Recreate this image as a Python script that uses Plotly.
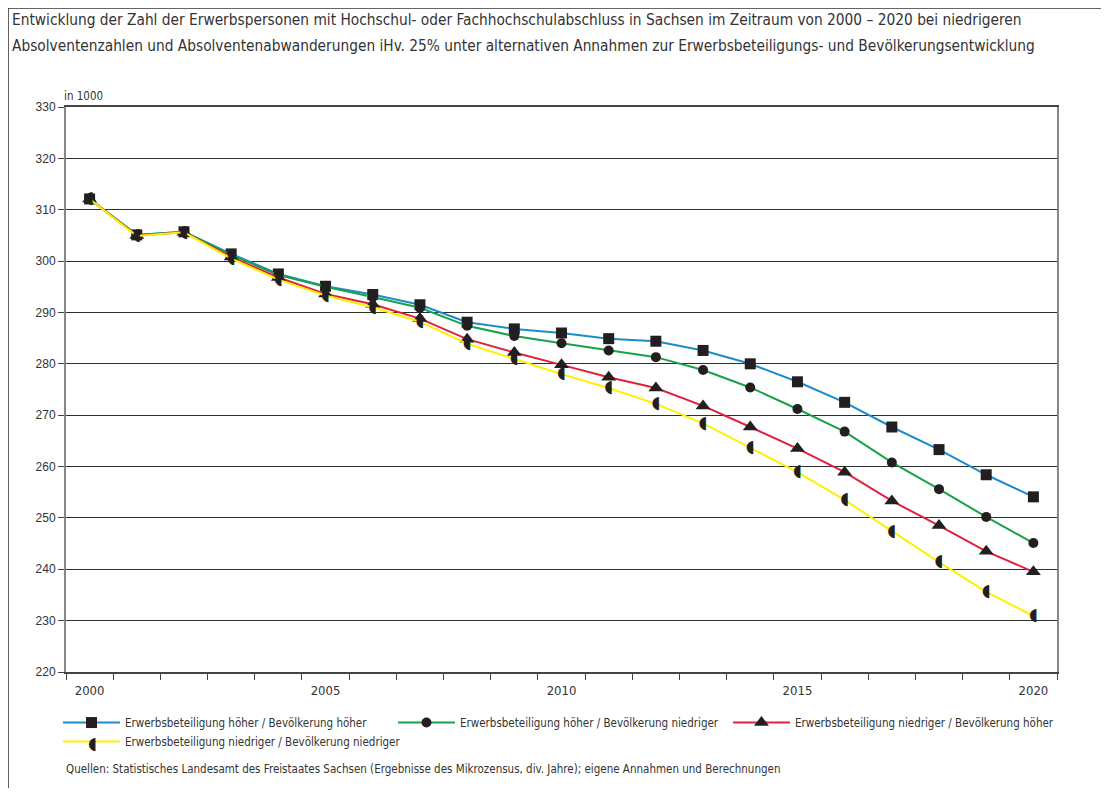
import plotly.graph_objects as go

years = list(range(2000, 2021))
tick_labels = ["2000", "2005", "2010", "2015", "2020"]

hoch_hoch = [312.1, 305.1, 305.7, 301.4, 297.5, 295.1, 293.5, 291.5, 288.1, 286.8, 286.0,
             284.9, 284.4, 282.6, 280.0, 276.5, 272.5, 267.7, 263.3, 258.4, 254.1]
hoch_nied = [312.1, 305.1, 305.7, 301.2, 297.3, 295.0, 293.0, 290.9, 287.4, 285.4, 284.0,
             282.6, 281.3, 278.8, 275.4, 271.2, 266.8, 260.8, 255.6, 250.2, 245.1]
nied_hoch = [312.1, 305.0, 305.6, 300.8, 296.8, 293.6, 291.6, 288.8, 284.8, 282.2, 279.8,
             277.4, 275.3, 271.8, 267.7, 263.5, 258.9, 253.3, 248.5, 243.5, 239.5]
nied_nied = [312.1, 304.9, 305.6, 300.5, 296.4, 293.3, 291.0, 288.2, 283.9, 280.9, 278.0,
             275.3, 272.2, 268.4, 263.6, 258.9, 253.5, 247.4, 241.4, 235.6, 230.9]

names = ["Erwerbsbeteiligung höher / Bevölkerung höher",
         "Erwerbsbeteiligung höher / Bevölkerung niedriger",
         "Erwerbsbeteiligung niedriger / Bevölkerung höher",
         "Erwerbsbeteiligung niedriger / Bevölkerung niedriger"]
colors = ["#1b8ccb", "#17a24a", "#e2203e", "#fff000"]

COND = "Liberation Sans Narrow, DejaVu Sans Condensed, Arial Narrow, sans-serif"
MK = "#231f20"
TXT = "#333333"
HALF = "◖"

fig = go.Figure()
fig.add_trace(go.Scatter(x=years, y=hoch_hoch, name=names[0], mode="lines+markers",
                         line=dict(color=colors[0], width=2),
                         marker=dict(symbol="square", size=11, color=MK)))
fig.add_trace(go.Scatter(x=years, y=hoch_nied, name=names[1], mode="lines+markers",
                         line=dict(color=colors[1], width=2),
                         marker=dict(symbol="circle", size=10, color=MK)))
fig.add_trace(go.Scatter(x=years, y=nied_hoch, name=names[2], mode="lines+markers",
                         line=dict(color=colors[2], width=2),
                         marker=dict(symbol="triangle-up", size=13, color=MK)))
fig.add_trace(go.Scatter(x=years, y=nied_nied, name=names[3], mode="lines+text",
                         text=[HALF] * len(years), textposition="middle center",
                         textfont=dict(family="DejaVu Sans", size=17, color=MK),
                         line=dict(color=colors[3], width=2)))

fig.update_layout(
    width=1101, height=780,
    paper_bgcolor="white", plot_bgcolor="white",
    margin=dict(l=58, r=52, t=99, b=116),
    font=dict(family=COND, size=12, color=TXT),
    showlegend=True,
    legend=dict(orientation="h", x=-0.0081, y=-0.0638, xanchor="left", yanchor="top",
                font=dict(family=COND, size=11.5, color=TXT),
                itemwidth=57, entrywidth=263, entrywidthmode="pixels",
                tracegroupgap=0, bgcolor="rgba(0,0,0,0)"),
    xaxis=dict(range=[1999.5, 2020.5], tickmode="array",
               tickvals=[int(t) for t in tick_labels], ticktext=tick_labels,
               ticks="", showgrid=False, zeroline=False, ticklabelstandoff=6,
               showline=True, linecolor="#444444", linewidth=1.5, mirror=True,
               tickfont=dict(family=COND, size=13, color=TXT),
               minor=dict(tick0=1999.5, dtick=1, ticks="outside", ticklen=6,
                          tickcolor="#444444", showgrid=False)),
    yaxis=dict(range=[220, 330], dtick=10, tick0=220, ticks="outside", ticklen=6,
               tickcolor="#444444", showgrid=True, gridcolor="#2e2e2e", gridwidth=1,
               zeroline=False, showline=True, linecolor="#888888", linewidth=2, mirror=True,
               tickfont=dict(family="Liberation Sans, Arial, sans-serif", size=12, color=TXT)),
)

fig.add_annotation(xref="paper", yref="paper", x=-0.0565, y=1.1540, xanchor="left", yanchor="middle",
                   text="Entwicklung der Zahl der Erwerbspersonen mit Hochschul- oder Fachhochschulabschluss in Sachsen im Zeitraum von 2000 – 2020 bei niedrigeren",
                   showarrow=False, align="left", font=dict(family=COND, size=15.3, color=TXT))
fig.add_annotation(xref="paper", yref="paper", x=-0.0565, y=1.1080, xanchor="left", yanchor="middle",
                   text="Absolventenzahlen und Absolventenabwanderungen iHv. 25% unter alternativen Annahmen zur Erwerbsbeteiligungs- und Bevölkerungsentwicklung",
                   showarrow=False, align="left", font=dict(family=COND, size=15.3, color=TXT))
fig.add_annotation(xref="paper", yref="paper", x=-0.0040, y=1.0195, xanchor="left", yanchor="middle",
                   text="in 1000", showarrow=False, font=dict(family=COND, size=11.5, color=TXT))
fig.add_annotation(xref="paper", yref="paper", x=-0.0020, y=-0.1717, xanchor="left", yanchor="middle",
                   text="Quellen: Statistisches Landesamt des Freistaates Sachsen (Ergebnisse des Mikrozensus, div. Jahre); eigene Annahmen und Berechnungen",
                   showarrow=False, font=dict(family=COND, size=11.5, color=TXT))
# half-circle symbol for the fourth legend entry
fig.add_annotation(xref="paper", yref="paper", x=0.0272, y=-0.1257, xanchor="center", yanchor="middle",
                   text=HALF, showarrow=False, font=dict(family="DejaVu Sans", size=17, color=MK))
fig.add_shape(type="rect", xref="paper", yref="paper", x0=-0.0585, x1=1.1, y0=-0.3, y1=1.1752,
              line=dict(color="#333333", width=1.5), layer="below")

fig.write_html("out.html")
